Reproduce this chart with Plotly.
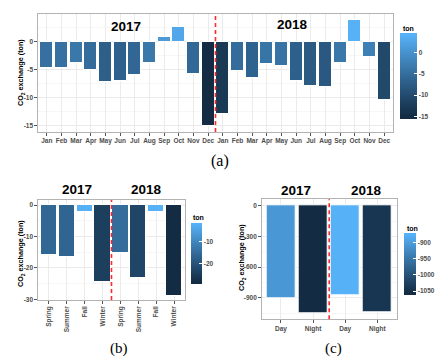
import numpy as np
import plotly.graph_objects as go

W, H = 445, 362

# ---------------- data ----------------
months = ["Jan", "Feb", "Mar", "Apr", "May", "Jun", "Jul", "Aug", "Sep", "Oct", "Nov", "Dec"]
monthly_2017 = [-4.7, -4.6, -3.7, -5.1, -7.1, -6.9, -5.9, -3.7, 0.9, 2.7, -5.8, -15.1]
monthly_2018 = [-12.9, -5.2, -6.5, -4.0, -4.3, -7.0, -7.8, -8.1, -3.7, 4.0, -2.6, -10.4]

seasons = ["Spring", "Summer", "Fall", "Winter"]
seasonal_2017 = [-16.0, -16.5, -2.3, -24.4]
seasonal_2018 = [-15.1, -23.1, -2.2, -28.8]

daynight = ["Day", "Night"]
daynight_2017 = [-906, -1056]
daynight_2018 = [-873, -1040]

years = ["2017", "2018"]

a_yticks = [0, -5, -10, -15]
b_yticks = [0, -10, -20, -30]
c_yticks = [0, -300, -600, -900]
a_cbticks = [0, -5, -10, -15]
b_cbticks = [-10, -20]
c_cbticks = [-900, -950, -1000, -1050]


# ---------------- helpers ----------------
def px_x(p):
    return p / W


def px_y(p):
    return 1 - p / H


def hex2rgb(h):
    h = h.lstrip("#")
    return np.array([int(h[i:i + 2], 16) for i in (0, 2, 4)]) / 255.0


def srgb2lin(c):
    return np.where(c <= 0.04045, c / 12.92, ((c + 0.055) / 1.055) ** 2.4)


def lin2srgb(c):
    c = np.clip(c, 0, 1)
    return np.where(c <= 0.0031308, 12.92 * c, 1.055 * c ** (1 / 2.4) - 0.055)


M = np.array([[0.4124, 0.3576, 0.1805], [0.2126, 0.7152, 0.0722], [0.0193, 0.1192, 0.9505]])
Minv = np.linalg.inv(M)
WP = np.array([0.95047, 1.0, 1.08883])


def f(t):
    d = 6 / 29
    return np.where(t > d ** 3, np.cbrt(t), t / (3 * d * d) + 4 / 29)


def finv(t):
    d = 6 / 29
    return np.where(t > d, t ** 3, 3 * d * d * (t - 4 / 29))


def rgb2lab(rgb):
    xyz = M @ srgb2lin(rgb) / WP
    fx, fy, fz = f(xyz)
    return np.array([116 * fy - 16, 500 * (fx - fy), 200 * (fy - fz)])


def lab2hex(lab):
    L, a, b = lab
    fy = (L + 16) / 116
    fx = fy + a / 500
    fz = fy - b / 200
    xyz = np.array([finv(fx), finv(fy), finv(fz)]) * WP
    rgb = lin2srgb(Minv @ xyz)
    r, g, bb = (np.round(rgb * 255)).astype(int)
    return "#%02x%02x%02x" % (r, g, bb)


low, high = rgb2lab(hex2rgb("#132B43")), rgb2lab(hex2rgb("#56B1F7"))
pad = 0.025
cscale = [[0.0, lab2hex(low)]]
for t in np.linspace(0, 1, 21):
    cscale.append([pad + t * (1 - 2 * pad), lab2hex(low + t * (high - low))])
cscale.append([1.0, lab2hex(high)])


def crange(vals):
    lo, hi = min(vals), max(vals)
    ext = (hi - lo) * pad / (1 - 2 * pad)
    return lo - ext, hi + ext


TICKFONT = dict(family="Liberation Sans", size=6.5, color="#4D4D4D", weight="bold")
BORDER = "#B3B3B3"
GRID = "#EBEBEB"
MINOR = "#F6F6F6"

fig = go.Figure()


def add_panel(idx, xs, ticktext, vals, yticks, yminor, yrange, xdom, ydom, cb, cbticks, tickangle=0):
    xa = "x" if idx == 1 else "x%d" % idx
    ya = "y" if idx == 1 else "y%d" % idx
    cmin, cmax = crange(vals)
    fig.add_trace(go.Bar(
        x=xs, y=vals, width=0.9, xaxis=xa, yaxis=ya,
        marker=dict(
            color=vals, colorscale=cscale, cmin=cmin, cmax=cmax,
            line=dict(color="white", width=1),
            showscale=True,
            colorbar=dict(
                x=px_x(cb[0]), xanchor="left", xpad=0, ypad=0,
                y=px_y((cb[2] + cb[3]) / 2), yanchor="middle",
                len=(cb[3] - cb[2]) / H, lenmode="fraction",
                thickness=cb[1] - cb[0], thicknessmode="pixels",
                outlinewidth=0, ticks="inside", ticklen=3, tickcolor="white",
                tickvals=cbticks, ticktext=[str(v) for v in cbticks],
                tickfont=TICKFONT,
            ),
        ),
        hoverinfo="skip",
    ))
    axx = dict(
        domain=[px_x(xdom[0]), px_x(xdom[1])], anchor=ya,
        range=[0.4, len(xs) + 0.6], tickmode="array", tickvals=xs, ticktext=ticktext,
        tickangle=tickangle, tickfont=TICKFONT, ticks="outside", ticklen=2.5, tickcolor="#555555",
        showgrid=True, gridcolor=GRID, gridwidth=1, zeroline=False,
        showline=True, mirror=True, linecolor=BORDER, linewidth=1.3, fixedrange=True,
        automargin=False,
    )
    axy = dict(
        domain=[px_y(ydom[1]), px_y(ydom[0])], anchor=xa,
        range=yrange, tickmode="array", tickvals=yticks, ticktext=[str(v) for v in yticks],
        tickfont=TICKFONT, ticks="outside", ticklen=2.5, tickcolor="#555555",
        showgrid=True, gridcolor=GRID, gridwidth=1, zeroline=False,
        minor=dict(tickvals=yminor, showgrid=True, gridcolor=MINOR, gridwidth=1, ticks=""),
        showline=True, mirror=True, linecolor=BORDER, linewidth=1.3, fixedrange=True,
        automargin=False,
    )
    key = "" if idx == 1 else str(idx)
    fig.update_layout(**{"xaxis" + key: axx, "yaxis" + key: axy})
    # red dashed divider between years
    fig.add_shape(type="line", xref=xa, yref=ya + " domain",
                  x0=len(xs) / 2 + 0.5, x1=len(xs) / 2 + 0.5, y0=0, y1=1,
                  line=dict(color="#FF2A2A", width=1.6, dash="4px,3px"), layer="above")


# panel (a)
xa_vals = list(range(1, 25))
add_panel(1, xa_vals, months + months, monthly_2017 + monthly_2018,
          a_yticks, [2.5, -2.5, -7.5, -12.5], [-16.1, 5.0],
          (38, 393), (14, 132), (400, 416.7, 33.3, 119), a_cbticks)
# panel (b)
add_panel(2, list(range(1, 9)), seasons + seasons, seasonal_2017 + seasonal_2018,
          b_yticks, [-5, -15, -25], [-30.2, 1.6],
          (38, 185), (200, 300), (190.7, 202, 223.3, 284.3), b_cbticks, tickangle=-90)
# panel (c)
add_panel(3, list(range(1, 5)), daynight + daynight, daynight_2017 + daynight_2018,
          c_yticks, [-150, -450, -750, -1050], [-1111, 63],
          (261.7, 396.7), (199.3, 319.3), (404.3, 416.7, 232.7, 294.3), c_cbticks)

annotations = []


def ann(text, x, y, size, family="Liberation Sans", weight="bold", color="black", angle=0, xanchor="center"):
    annotations.append(dict(
        text=text, x=px_x(x), y=px_y(y), xref="paper", yref="paper",
        xanchor=xanchor, yanchor="middle", showarrow=False, textangle=angle,
        font=dict(family=family, size=size, color=color, weight=weight),
    ))


# year labels
ann(years[0], 126.3, 26.7, 13.5)
ann(years[1], 292.8, 24.2, 13.5)
ann(years[0], 76.7, 189.3, 13.5)
ann(years[1], 146.7, 189.3, 13.5)
ann(years[0], 295.5, 190, 13.5)
ann(years[1], 366, 190, 13.5)

# axis titles
ytitle = "CO<sub>2</sub> exchange (ton)"
ann(ytitle, 21, 73, 7.2, angle=-90)
ann(ytitle, 21, 254, 7.2, angle=-90)
ann(ytitle, 242, 257, 7.2, angle=-90)

# legend titles
ann("ton", 400.5, 28.3, 7, xanchor="left")
ann("ton", 190.7, 217, 7, xanchor="left")
ann("ton", 404.5, 228.5, 7, xanchor="left")

# captions
ann("(a)", 219.5, 161, 16, family="Liberation Serif", weight="normal")
ann("(b)", 119, 348, 15, family="Liberation Serif", weight="normal")
ann("(c)", 333, 348, 15, family="Liberation Serif", weight="normal")

fig.update_layout(
    width=W, height=H, margin=dict(l=0, r=0, t=0, b=0, autoexpand=False),
    paper_bgcolor="white", plot_bgcolor="white",
    showlegend=False, bargap=0, annotations=annotations,
)

fig.write_html(
    "out.html",
    config={"displayModeBar": False},
    post_script="document.body.style.margin='0';document.body.style.overflow='hidden';",
)
